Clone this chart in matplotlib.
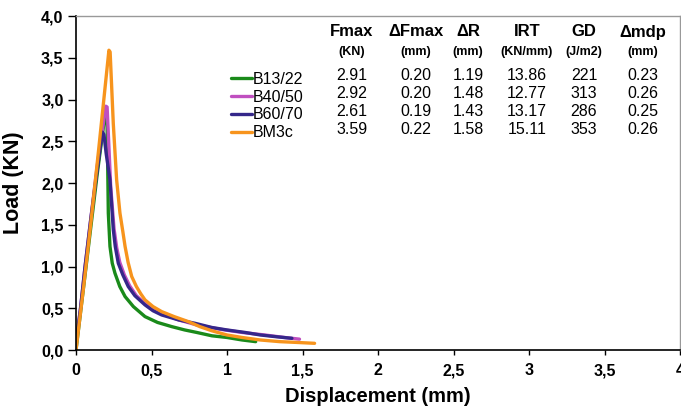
import matplotlib.pyplot as plt
from matplotlib.ticker import FuncFormatter

plt.rcParams['font.family'] = ['Liberation Sans', 'DejaVu Sans']

# curves (displacement mm, load KN)
b13_x = [0, 0.03, 0.06, 0.10, 0.14, 0.18, 0.197, 0.205, 0.21, 0.214, 0.225, 0.24, 0.258, 0.29, 0.325, 0.38, 0.457,
         0.54, 0.634, 0.72, 0.80, 0.90, 1.00, 1.10, 1.19]
b13_y = [0, 0.45, 0.9, 1.5, 2.1, 2.65, 2.9, 2.8, 2.2, 1.64, 1.24, 1.04, 0.92, 0.76, 0.64, 0.52, 0.40,
         0.33, 0.28, 0.24, 0.21, 0.17, 0.15, 0.12, 0.10]

b40_x = [0, 0.03, 0.06, 0.10, 0.14, 0.18, 0.197, 0.206, 0.215, 0.23, 0.252, 0.27, 0.29, 0.32, 0.355, 0.40, 0.46,
         0.52, 0.58, 0.68, 0.80, 0.95, 1.10, 1.25, 1.38, 1.48]
b40_y = [0.08, 0.5, 1.0, 1.6, 2.2, 2.7, 2.92, 2.91, 2.55, 1.95, 1.45, 1.22, 1.05, 0.90, 0.77, 0.65, 0.55,
         0.48, 0.43, 0.36, 0.30, 0.25, 0.21, 0.18, 0.15, 0.13]

b60_x = [0, 0.03, 0.06, 0.10, 0.14, 0.175, 0.185, 0.20, 0.225, 0.247, 0.26, 0.28, 0.31, 0.346, 0.39, 0.457,
         0.51, 0.567, 0.68, 0.788, 0.899, 1.00, 1.12, 1.22, 1.32, 1.43]
b60_y = [0.08, 0.5, 1.0, 1.6, 2.15, 2.61, 2.58, 2.35, 2.04, 1.44, 1.24, 1.04, 0.90, 0.76, 0.65, 0.54,
         0.47, 0.42, 0.36, 0.32, 0.27, 0.24, 0.21, 0.18, 0.16, 0.14]

bm3_x = [0, 0.05, 0.10, 0.15, 0.19, 0.218, 0.226, 0.247, 0.269, 0.291, 0.31, 0.325, 0.345, 0.369, 0.40, 0.43,
         0.457, 0.51, 0.567, 0.65, 0.744, 0.82, 0.90, 1.00, 1.10, 1.22, 1.35, 1.47, 1.58]
bm3_y = [0, 0.75, 1.55, 2.4, 3.1, 3.59, 3.57, 2.71, 2.04, 1.64, 1.42, 1.24, 1.05, 0.88, 0.76, 0.67,
         0.60, 0.52, 0.46, 0.40, 0.34, 0.28, 0.23, 0.18, 0.15, 0.12, 0.10, 0.09, 0.08]

names = ['B13/22', 'B40/50', 'B60/70', 'BM3c']
colors = ['#1a8a1a', '#c04fc0', '#35278a', '#f7941d']

# table beside the legend
col_titles = ['Fmax', '\u0394Fmax', '\u0394R', 'IRT', 'GD', '\u0394mdp']
col_units = ['(KN)', '(mm)', '(mm)', '(KN/mm)', '(J/m2)', '(mm)']
table_rows = [
    ['2.91', '0.20', '1.19', '13.86', '221', '0.23'],
    ['2.92', '0.20', '1.48', '12.77', '313', '0.26'],
    ['2.61', '0.19', '1.43', '13.17', '286', '0.25'],
    ['3.59', '0.22', '1.58', '15.11', '353', '0.26'],
]

W, H = 681, 415
fig = plt.figure(figsize=(W / 100, H / 100), dpi=100)
ax = fig.add_axes([76 / W, 1 - 350 / H, 604 / W, 334 / H])

curves = [(b13_x, b13_y), (b40_x, b40_y), (b60_x, b60_y), (bm3_x, bm3_y)]
for (xs, ys), name, c in zip(curves, names, colors):
    ax.plot(xs, ys, color=c, lw=2.4, label=name, solid_capstyle='round', solid_joinstyle='round')

ax.set_xlim(0, 4)
ax.set_ylim(0, 4)
ax.set_xticks([0, 0.5, 1, 1.5, 2, 2.5, 3, 3.5, 4])
ax.set_yticks([0, 0.5, 1, 1.5, 2, 2.5, 3, 3.5, 4])
ax.xaxis.set_major_formatter(FuncFormatter(lambda v, p: ('%g' % v).replace('.', ',')))
ax.yaxis.set_major_formatter(FuncFormatter(lambda v, p: ('%.1f' % v).replace('.', ',')))
ax.tick_params(axis='x', direction='out', length=3.5, width=1, labelsize=11.5, pad=6)
ax.tick_params(axis='y', direction='out', length=6, width=1, labelsize=11.5, pad=3)
for lab in ax.get_xticklabels() + ax.get_yticklabels():
    lab.set_fontweight('bold')
for s in ['left', 'bottom']:
    ax.spines[s].set_color('black')
    ax.spines[s].set_linewidth(1.2)
for s in ['top', 'right']:
    ax.spines[s].set_color('#999999')
    ax.spines[s].set_linewidth(1.0)

ax.set_xlabel('Displacement (mm)', fontsize=14.5, fontweight='bold', labelpad=6)
ax.set_ylabel('Load (KN)', fontsize=15.5, fontweight='bold', labelpad=12)

ax.legend(loc='upper left', bbox_to_anchor=((231 - 76) / 604, (350 - 72) / 334),
          frameon=False, fontsize=11.5, handlelength=1.3, handletextpad=0.05,
          labelspacing=0.17, borderpad=0, borderaxespad=0)

col_x = [352, 416, 468, 527, 584, 643]
for cx, t, u in zip(col_x, col_titles, col_units):
    fig.text(cx / W, 1 - 32 / H, t, ha='center', va='center', fontsize=12, fontweight='bold')
    fig.text(cx / W, 1 - 52 / H, u, ha='center', va='center', fontsize=9, fontweight='bold')
row_y = [76, 94, 112, 130]
for ry, row in zip(row_y, table_rows):
    for cx, v in zip(col_x, row):
        fig.text(cx / W, 1 - ry / H, v, ha='center', va='center', fontsize=11.5)

fig.savefig('out.png', dpi=100)
